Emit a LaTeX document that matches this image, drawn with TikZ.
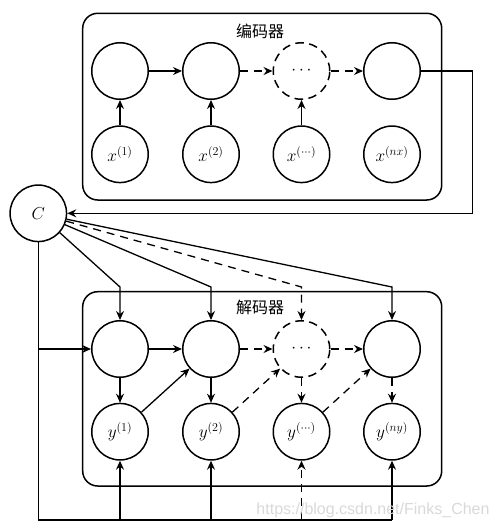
\documentclass[tikz,border=0pt]{standalone}
\usepackage{fontspec}
\newfontfamily\cjk{Noto Sans CJK SC}
\newfontfamily\wmfont{Liberation Sans}
\usetikzlibrary{arrows.meta}
\begin{document}
\begin{tikzpicture}[x=1pt,y=-1pt,
  >={Stealth[length=9pt,width=8pt,inset=3pt]},
  unit/.style={circle,draw,line width=1.5pt,minimum size=56.5pt,inner sep=0pt,font=\fontsize{17}{19}\selectfont},
  dunit/.style={unit,dash pattern=on 8.5pt off 5.5pt},
  conn/.style={line width=1.3pt,->},
  dconn/.style={conn,dash pattern=on 8pt off 6pt},
  plain/.style={line width=1.3pt},
  panel/.style={draw,line width=1.5pt,rounded corners=15pt},
  title/.style={font=\cjk\fontsize{16}{18}\selectfont}]
\useasboundingbox (0,0) rectangle (497,528);
\fill[white] (0,0) rectangle (497,528);
% panels
\draw[panel] (82.7,13.3) rectangle (441.7,200);
\draw[panel] (82.7,291.7) rectangle (441.7,486);
\node[title] (et) at (260,31.7) {编码器};
\node[title] (dt) at (260,307.3) {解码器};
% encoder
\node[unit] (e1) at (120,71) {};
\node[unit] (e2) at (211,71) {};
\node[dunit] (e3) at (301.5,71) {$\cdots$};
\node[unit] (e4) at (392,71) {};
\node[unit] (x1) at (120,154.3) {$x^{(1)}$};
\node[unit] (x2) at (211,154.3) {$x^{(2)}$};
\node[unit] (x3) at (301.5,154.3) {$x^{(\cdots)}$};
\node[unit] (x4) at (392,154.3) {$x^{(nx)}$};
% context
\node[unit] (C) at (38.3,213.3) {$C$};
% decoder
\node[unit] (d1) at (120,349) {};
\node[unit] (d2) at (211,349) {};
\node[dunit] (d3) at (301.5,349) {$\cdots$};
\node[unit] (d4) at (392,349) {};
\node[unit] (y1) at (120,431.7) {$y^{(1)}$};
\node[unit] (y2) at (211,431.7) {$y^{(2)}$};
\node[unit] (y3) at (301.5,431.7) {$y^{(\cdots)}$};
\node[unit] (y4) at (392,431.7) {$y^{(ny)}$};
% coordinates
\coordinate (eo) at (472.7,71);
\coordinate (k1) at (120,287);
\coordinate (k2) at (211,287);
\coordinate (k3) at (301.5,287);
\coordinate (k4) at (392,287);
\coordinate (cm) at (38.3,349);
\coordinate (cb) at (38.3,520);
\coordinate (b1) at (120,520);
\coordinate (b2) at (211,520);
\coordinate (b3) at (301.5,520);
\coordinate (b4) at (392,520);
% encoder connectors
\draw[conn] (x1) -- (e1);
\draw[conn] (x2) -- (e2);
\draw[conn] (x3) -- (e3);
\draw[conn] (e1) -- (e2);
\draw[dconn] (e2) -- (e3);
\draw[dconn] (e3) -- (e4);
\draw[conn] (e4) -- (eo) |- (C);
% context connectors
\draw[conn] (C) -- (k1) -- (d1);
\draw[conn] (C) -- (k2) -- (d2);
\draw[dconn] (C) -- (k3) -- (d3);
\draw[conn] (C) -- (k4) -- (d4);
\draw[plain] (C) -- (cb) -- (b4);
\draw[conn] (cm) -- (d1);
% decoder connectors
\draw[conn] (d1) -- (d2);
\draw[dconn] (d2) -- (d3);
\draw[dconn] (d3) -- (d4);
\draw[conn] (d1) -- (y1);
\draw[conn] (d2) -- (y2);
\draw[dconn] (d3) -- (y3);
\draw[dconn] (d4) -- (y4);
\draw[conn] (y1) -- (d2);
\draw[dconn] (y2) -- (d3);
\draw[dconn] (y3) -- (d4);
\draw[conn] (b1) -- (y1);
\draw[line width=1.3pt,{Bar[width=21pt]}->] (b2) -- (y2);
\draw[dconn] (b3) -- (y3);
\draw[conn] (b4) -- (y4);
% watermark
\node[font=\wmfont\fontsize{16}{18}\selectfont,text=gray!30] (wm) at (373,510.7) {https://blog.csdn.net/Finks\_Chen};
\end{tikzpicture}
\end{document}
